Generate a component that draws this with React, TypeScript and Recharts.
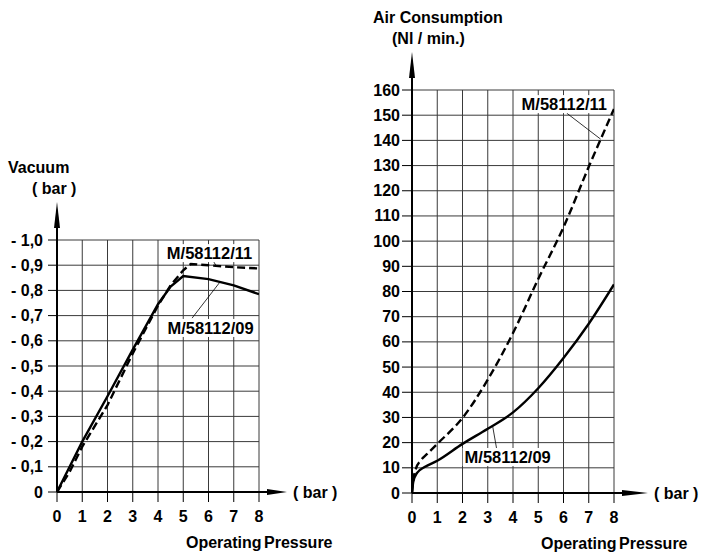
import React from 'react';
import {LineChart, Line, XAxis, YAxis, CartesianGrid, ReferenceLine, ReferenceDot} from 'recharts';

// Vacuum chart (left)
const vacPressure09 = [0, 0.5, 1, 2, 3, 4, 4.5, 5, 6, 7, 8];
const vacuum09 = [0, 0.1, 0.2, 0.38, 0.565, 0.745, 0.815, 0.857, 0.845, 0.82, 0.785];
const vacPressure11 = [0, 0.5, 1, 2, 3, 4, 4.5, 5, 5.3, 6, 7, 8];
const vacuum11 = [0, 0.08, 0.18, 0.345, 0.55, 0.74, 0.82, 0.88, 0.905, 0.9, 0.892, 0.887];
const vacuumTicks = [0, 0.1, 0.2, 0.3, 0.4, 0.5, 0.6, 0.7, 0.8, 0.9, 1.0];
const vacuumTickLabels = ['0', '- 0,1', '- 0,2', '- 0,3', '- 0,4', '- 0,5', '- 0,6', '- 0,7', '- 0,8', '- 0,9', '- 1,0'];

// Air consumption chart (right)
const airPressure09 = [0, 0.05, 0.2, 0.5, 1, 2, 3, 4, 5, 6, 7, 8];
const air09 = [0, 4.5, 8, 10.3, 12.8, 19.5, 25.5, 32, 41.6, 53.6, 67.2, 82.8];
const airPressure11 = [0, 0.05, 0.15, 0.35, 0.6, 1, 2, 3, 4, 5, 6, 7, 8];
const air11 = [0, 5, 9.5, 13, 15.5, 19.5, 29.8, 45, 63.5, 85, 105.5, 129.5, 152.5];
const airTicks = [0, 10, 20, 30, 40, 50, 60, 70, 80, 90, 100, 110, 120, 130, 140, 150, 160];

const pressureTicks = [0, 1, 2, 3, 4, 5, 6, 7, 8];

const toPoints = (xs: number[], ys: number[]) => xs.map((x, i) => ({x, y: ys[i]}));

const FONT = '"Liberation Sans", Arial, Helvetica, sans-serif';

const YTick = ({x, y, payload, index, labels}: any) => (
    <text x={x} y={y} dy={5.5} textAnchor="end" fontSize={16} fontWeight={700} fontFamily={FONT} fill="#000">
        {labels ? labels[index] : payload.value}
    </text>
);

const XTick = ({x, y, payload}: any) => (
    <text x={x} y={y} dy={11.5} textAnchor="middle" fontSize={16} fontWeight={700} fontFamily={FONT} fill="#000">
        {payload.value}
    </text>
);

const YTitle = ({viewBox, lines, dx}: any) => {
    const ax = viewBox.x + viewBox.width;
    const top = viewBox.y;
    return (
        <g>
            <line x1={ax} y1={top} x2={ax} y2={top - 14} stroke="#000" strokeWidth={2}/>
            <polygon points={`${ax - 3},${top - 12} ${ax + 3},${top - 12} ${ax},${top - 38}`} fill="#000"/>
            <text x={ax + dx[0]} y={top - 67} fontSize={16} fontWeight={700} fontFamily={FONT} fill="#000">{lines[0]}</text>
            <text x={ax + dx[1]} y={top - 46} fontSize={16} fontWeight={700} fontFamily={FONT} fill="#000">{lines[1]}</text>
        </g>
    );
};

const XTitle = ({viewBox, arrowLen}: any) => {
    const right = viewBox.x + viewBox.width;
    const ay = viewBox.y;
    return (
        <g>
            <line x1={right} y1={ay} x2={right + 10} y2={ay} stroke="#000" strokeWidth={2}/>
            <polygon points={`${right + 8},${ay - 3} ${right + 8},${ay + 3} ${right + arrowLen},${ay}`} fill="#000"/>
            <text x={right + arrowLen + 6} y={ay + 5.5} fontSize={16} fontWeight={700} fontFamily={FONT} fill="#000">( bar )</text>
            <text x={viewBox.x + 129} y={ay + 56} fontSize={16} fontWeight={700} fontFamily={FONT} fill="#000"
                  wordSpacing={-2}>Operating Pressure</text>
        </g>
    );
};

const TagText = ({cx, cy, text}: any) => (
    <g>
        <rect x={cx - 45} y={cy - 9} width={90} height={18} fill="#fff"/>
        <text x={cx} y={cy + 6} textAnchor="middle" fontSize={16.5} fontWeight={700} fontFamily={FONT} fill="#000">{text}</text>
    </g>
);

const VacuumChart = () => (
    <LineChart width={360} height={559} margin={{top: 240, right: 101, bottom: 0, left: 0}}>
        <CartesianGrid stroke="#3a3a3a" strokeWidth={1}/>
        <XAxis dataKey="x" type="number" domain={[0, 8]} ticks={pressureTicks} height={67}
               axisLine={{stroke: '#000', strokeWidth: 2}} tickLine={{stroke: '#000'}} tickSize={10} tickMargin={8}
               tick={<XTick/>} allowDataOverflow
               label={{content: (p: any) => <XTitle viewBox={p.viewBox} arrowLen={28}/>}}/>
        <YAxis type="number" domain={[0, 1]} ticks={vacuumTicks} width={57}
               axisLine={{stroke: '#000', strokeWidth: 2}} tickLine={{stroke: '#000'}} tickSize={9} tickMargin={5}
               tick={<YTick labels={vacuumTickLabels}/>}
               label={{content: (p: any) => <YTitle viewBox={p.viewBox} lines={['Vacuum', '( bar )']} dx={[-49, -25]}/>}}/>
        <ReferenceDot x={6.04} y={0.948} r={0} shape={(p: any) => <TagText {...p} text="M/58112/11"/>}/>
        <ReferenceDot x={6.08} y={0.651} r={0} shape={(p: any) => <TagText {...p} text="M/58112/09"/>}/>
        <ReferenceLine segment={[{x: 6.14, y: 0.925}, {x: 6.3, y: 0.898}]} stroke="#000" strokeWidth={0.8}/>
        <ReferenceLine segment={[{x: 5.35, y: 0.69}, {x: 6.46, y: 0.834}]} stroke="#000" strokeWidth={0.8}/>
        <Line data={toPoints(vacPressure11, vacuum11)} dataKey="y" type="linear" stroke="#000" strokeWidth={2.4}
              strokeDasharray="8 4" dot={false} isAnimationActive={false}/>
        <Line data={toPoints(vacPressure09, vacuum09)} dataKey="y" type="linear" stroke="#000" strokeWidth={2.4}
              dot={false} isAnimationActive={false}/>
    </LineChart>
);

const AirChart = () => (
    <LineChart width={341} height={559} margin={{top: 90, right: 87, bottom: 0, left: 0}}>
        <CartesianGrid stroke="#3a3a3a" strokeWidth={1}/>
        <XAxis dataKey="x" type="number" domain={[0, 8]} ticks={pressureTicks} height={66}
               axisLine={{stroke: '#000', strokeWidth: 2}} tickLine={{stroke: '#000'}} tickSize={10} tickMargin={8}
               tick={<XTick/>} allowDataOverflow
               label={{content: (p: any) => <XTitle viewBox={p.viewBox} arrowLen={34}/>}}/>
        <YAxis type="number" domain={[0, 160]} ticks={airTicks} width={52}
               axisLine={{stroke: '#000', strokeWidth: 2}} tickLine={{stroke: '#000'}} tickSize={10} tickMargin={2}
               tick={<YTick/>}
               label={{content: (p: any) => <YTitle viewBox={p.viewBox} lines={['Air Consumption', '(Nl / min.)']} dx={[-39, -20]}/>}}/>
        <ReferenceDot x={6.03} y={154.4} r={0} shape={(p: any) => <TagText {...p} text="M/58112/11"/>}/>
        <ReferenceDot x={3.79} y={14.3} r={0} shape={(p: any) => <TagText {...p} text="M/58112/09"/>}/>
        <ReferenceLine segment={[{x: 6.13, y: 150.8}, {x: 7.47, y: 140.5}]} stroke="#000" strokeWidth={0.8}/>
        <ReferenceLine segment={[{x: 3.36, y: 17.1}, {x: 3.2, y: 26.2}]} stroke="#000" strokeWidth={0.8}/>
        <Line data={toPoints(airPressure11, air11)} dataKey="y" type="monotone" stroke="#000" strokeWidth={2.4}
              strokeDasharray="8 4" dot={false} isAnimationActive={false}/>
        <Line data={toPoints(airPressure09, air09)} dataKey="y" type="monotone" stroke="#000" strokeWidth={2.4}
              dot={false} isAnimationActive={false}/>
    </LineChart>
);

export default function App() {
    return (
        <div style={{position: 'fixed', left: 0, top: 0, width: 701, height: 559, background: '#fff', fontFamily: FONT}}>
            <div style={{position: 'absolute', left: 0, top: 0}}>
                <VacuumChart/>
            </div>
            <div style={{position: 'absolute', left: 360, top: 0}}>
                <AirChart/>
            </div>
        </div>
    );
}
